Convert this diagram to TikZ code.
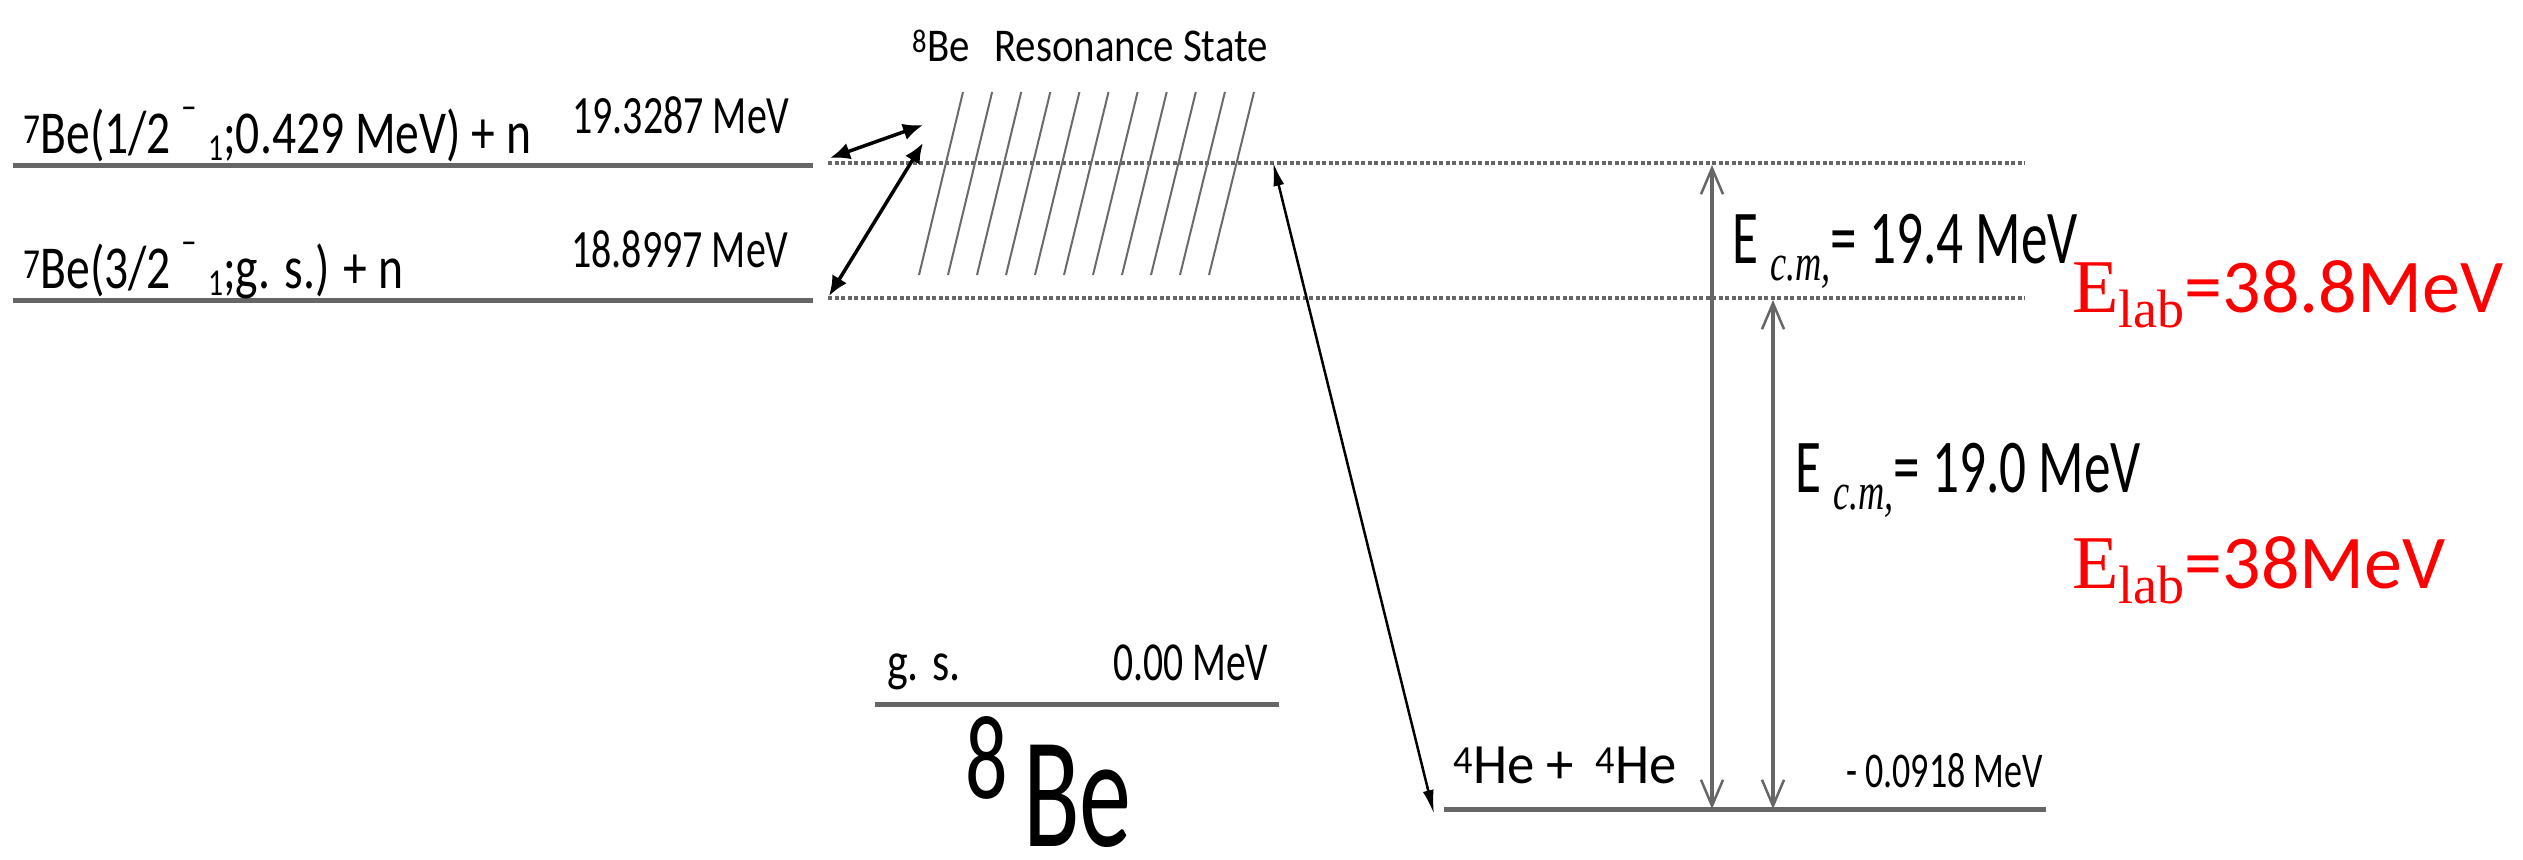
\documentclass[tikz,border=0pt]{standalone}
\usepackage{fontspec}
\setmainfont{Carlito}
\newfontfamily\serifE{Liberation Serif}
\usetikzlibrary{arrows.meta}
\newcommand{\sx}[2]{\scalebox{#1}[1]{#2}}
\newcommand{\fs}[1]{\fontsize{#1}{#1}\selectfont}
\newcommand{\dropsub}[3]{\raisebox{-#2pt}{\fs{#1}#3}}
\newcommand{\supminus}{\raisebox{34pt}{\fs{40}–}}
\definecolor{lvlgray}{HTML}{666666}
\definecolor{hatchgray}{HTML}{6A6A6A}
\begin{document}
\begin{tikzpicture}[x=1pt,y=-1pt,
  lbl/.style={inner sep=0pt, anchor=base west},
  solidlvl/.style={draw=lvlgray, line width=5pt},
  dotlvl/.style={draw=lvlgray, line width=3.5pt, dash pattern=on 4pt off 2.5pt},
  hatch/.style={draw=hatchgray, line width=2pt},
  dblarrow/.style={draw=black, line width=3.5pt, {Latex[length=20pt,width=17pt]}-{Latex[length=20pt,width=17pt]}},
  longarrow/.style={draw=black, line width=2.5pt, {Latex[length=24pt,width=11pt]}-{Latex[length=24pt,width=11pt]}},
  varrow/.style={draw=lvlgray, line width=3.5pt, {Straight Barb[length=26pt,width=22pt,line width=2.5pt]}-{Straight Barb[length=26pt,width=22pt,line width=2.5pt]}},
  redlbl/.style={lbl, text=red}]
\useasboundingbox (0,0) rectangle (2523,859);

% level coordinates
\coordinate (L1a) at (13,165);  \coordinate (L1b) at (813,165);
\coordinate (L2a) at (13,300);  \coordinate (L2b) at (813,300);
\coordinate (D1a) at (828,163); \coordinate (D1b) at (2025,163);
\coordinate (D2a) at (828,298); \coordinate (D2b) at (2025,298);
\coordinate (GSa) at (875,704); \coordinate (GSb) at (1279,704);
\coordinate (HEa) at (1444,809); \coordinate (HEb) at (2046,809);

\draw[solidlvl] (L1a) -- (L1b);
\draw[solidlvl] (L2a) -- (L2b);
\draw[dotlvl] (D1a) -- (D1b);
\draw[dotlvl] (D2a) -- (D2b);
\draw[solidlvl] (GSa) -- (GSb);
\draw[solidlvl] (HEa) -- (HEb);

% hatching of the resonance state
\foreach \i in {0,...,10}
  \draw[hatch] (963+29.1*\i,92) -- (919+29*\i,275);

% texts
\node[lbl] (t1) at (23,153) {\fs{61}\sx{0.78}{\textsuperscript{7}Be(1/2 \supminus\ \dropsub{38}{7}{1};0.429 MeV) + n}};
\node[lbl] (e1) at (572,133) {\fs{54}\sx{0.74}{19.3287 MeV}};
\node[lbl] (t2) at (23,288) {\fs{61}\sx{0.78}{\textsuperscript{7}Be(3/2 \supminus\ \dropsub{38}{7}{1};g. s.) + n}};
\node[lbl] (e2) at (571,267) {\fs{54}\sx{0.74}{18.8997 MeV}};
\node[lbl] (res) at (912,62) {\fs{47}\sx{0.87}{\textsuperscript{8}Be\hspace{0.6em}Resonance State}};

\node[lbl] (ecm1) at (1732,263) {\fs{76}\sx{0.7}{E \dropsub{52}{17}{\serifE\itshape c.m,}= 19.4 MeV}};
\node[lbl] (ecm2) at (1795,492) {\fs{76}\sx{0.7}{E \dropsub{52}{17}{\serifE\itshape c.m,}= 19.0 MeV}};
\node[redlbl] (lab1) at (2072,312) {\fs{76}{\serifE E}\dropsub{54}{15}{\serifE lab}=38.8MeV};
\node[redlbl] (lab2) at (2072,588) {\fs{76}{\serifE E}\dropsub{54}{15}{\serifE lab}=38MeV};

\node[lbl] (gs) at (887,680) {\fs{55}\sx{0.8}{g. s.}};
\node[lbl] (gse) at (1113,680) {\fs{55}\sx{0.72}{0.00 MeV}};
\node[lbl] (eight) at (965,798) {\fs{120}\sx{0.7}{8}};
\node[lbl] (be8) at (1023,846) {\fs{158}\sx{0.66}{Be}};

\node[lbl] (he) at (1453,783) {\fs{57}\sx{0.96}{\textsuperscript{4}He + \,\textsuperscript{4}He}};
\node[lbl] (hee) at (1846,787) {\fs{50}\sx{0.72}{- 0.0918 MeV}};

% connectors
\coordinate (a1s) at (830,158); \coordinate (a1e) at (923,125);
\coordinate (a2s) at (829,296); \coordinate (a2e) at (923,143);
\draw[dblarrow] (a1s) -- (a1e);
\draw[dblarrow] (a2s) -- (a2e);

\coordinate (lt) at (1273,162); \coordinate (lb) at (1434,814);
\draw[longarrow] (lt) -- (lb);

\coordinate (v1t) at (1712,165); \coordinate (v1b) at (1712,809);
\coordinate (v2t) at (1773,300); \coordinate (v2b) at (1773,809);
\draw[varrow] (v1t) -- (v1b);
\draw[varrow] (v2t) -- (v2b);
\end{tikzpicture}
\end{document}
